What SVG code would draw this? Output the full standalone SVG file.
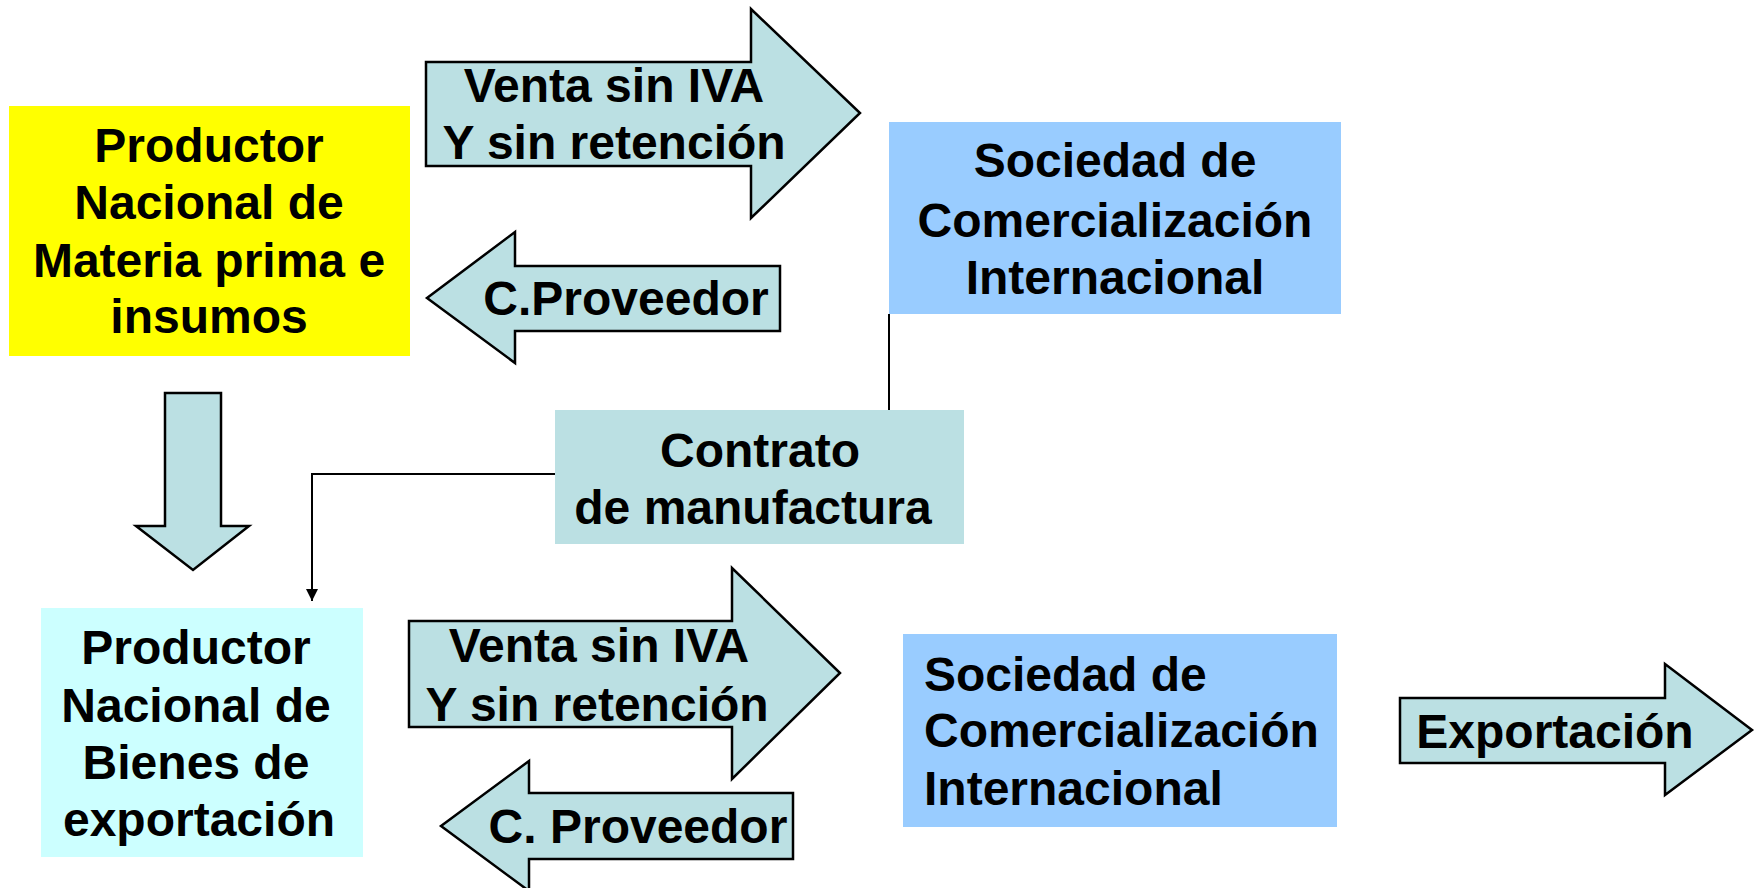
<svg xmlns="http://www.w3.org/2000/svg" width="1756" height="888" viewBox="0 0 1756 888">
<defs>
<style>
.t{font-family:"Liberation Sans",Arial,sans-serif;font-weight:bold;font-size:48px;fill:#000}
.c{text-anchor:middle}
.arr{fill:#BBE0E3;stroke:#000;stroke-width:2.5;stroke-linejoin:miter}
.ln{fill:none;stroke:#000;stroke-width:2}
</style>
<marker id="ah" viewBox="0 0 10 10" refX="10" refY="5" markerWidth="12" markerHeight="12" markerUnits="userSpaceOnUse" orient="auto">
<path d="M0,0 L10,5 L0,10 z" fill="#000"/>
</marker>
</defs>
<rect width="1756" height="888" fill="#fff"/>

<g id="connectors">
<path class="ln" d="M889,314 V410"/>
<path class="ln" d="M555,474 H312 V601" marker-end="url(#ah)"/>
</g>

<g id="productor-materia">
<rect x="9" y="106" width="401" height="250" fill="#FFFF00"/>
<text class="t c" x="209" y="162">Productor</text>
<text class="t c" x="209" y="219">Nacional de</text>
<text class="t c" x="209" y="277">Materia prima e</text>
<text class="t c" x="209" y="333">insumos</text>
</g>

<g id="venta-top">
<path class="arr" d="M426,62 H751 V9 L860,113 L751,218 V166 H426 Z"/>
<text class="t c" x="614" y="102">Venta sin IVA</text>
<text class="t c" x="614" y="159">Y sin retención</text>
</g>

<g id="proveedor-top">
<path class="arr" d="M427,298 L515,232 V266 H780 V331 H515 V363 Z"/>
<text class="t c" x="626" y="315">C.Proveedor</text>
</g>

<g id="sociedad-top">
<rect x="889" y="122" width="452" height="192" fill="#99CCFF"/>
<text class="t c" x="1115" y="177">Sociedad de</text>
<text class="t c" x="1115" y="237">Comercialización</text>
<text class="t c" x="1115" y="294">Internacional</text>
</g>

<g id="down-arrow">
<path class="arr" d="M165,393 H221 V526 H249 L193,570 L136,526 H165 Z"/>
</g>

<g id="contrato">
<rect x="555" y="410" width="409" height="134" fill="#BBE0E3"/>
<text class="t c" x="760" y="467">Contrato</text>
<text class="t c" x="753" y="524">de manufactura</text>
</g>

<g id="productor-bienes">
<rect x="41" y="608" width="322" height="249" fill="#CCFFFF"/>
<text class="t c" x="196" y="664">Productor</text>
<text class="t c" x="196" y="722">Nacional de</text>
<text class="t c" x="196" y="779">Bienes de</text>
<text class="t c" x="199" y="836">exportación</text>
</g>

<g id="venta-bottom">
<path class="arr" d="M409,621 H732 V568 L840,673 L732,779 V727 H409 Z"/>
<text class="t c" x="599" y="662">Venta sin IVA</text>
<text class="t c" x="597" y="721">Y sin retención</text>
</g>

<g id="proveedor-bottom">
<path class="arr" d="M441,826 L529,761 V793 H793 V859 H529 V891 Z"/>
<text class="t c" x="638" y="843">C. Proveedor</text>
</g>

<g id="sociedad-bottom">
<rect x="903" y="634" width="434" height="193" fill="#99CCFF"/>
<text class="t" x="924" y="691">Sociedad de</text>
<text class="t" x="924" y="747">Comercialización</text>
<text class="t" x="924" y="805">Internacional</text>
</g>

<g id="exportacion">
<path class="arr" d="M1400,698 H1665 V664 L1752,730 L1665,795 V763 H1400 Z"/>
<text class="t c" x="1555" y="748">Exportación</text>
</g>
</svg>
